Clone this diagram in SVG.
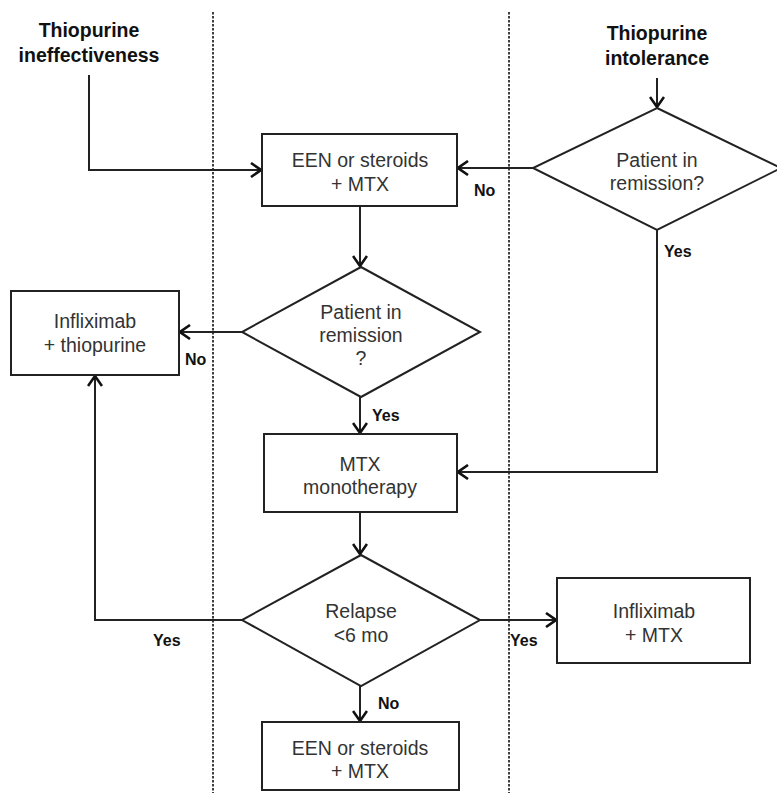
<svg xmlns="http://www.w3.org/2000/svg" width="777" height="793" viewBox="0 0 777 793">
<style>
.bx{fill:#fff;stroke:#222;stroke-width:2}
.t{font-family:"Liberation Sans",Arial,sans-serif;font-size:19.5px;fill:#333;text-anchor:middle}
.h{font-family:"Liberation Sans",Arial,sans-serif;font-size:19.5px;font-weight:bold;fill:#111;text-anchor:middle}
.l{font-family:"Liberation Sans",Arial,sans-serif;font-size:16px;font-weight:bold;fill:#111}
.c{fill:none;stroke:#222;stroke-width:2}
.d{fill:none;stroke:#111;stroke-width:1.6;stroke-dasharray:2.5 1.5}
</style>
<defs>
<marker id="a" viewBox="0 0 12 16" refX="11" refY="8" markerWidth="12" markerHeight="16" markerUnits="userSpaceOnUse" orient="auto">
<path d="M1,1 L11,8 L1,15" fill="none" stroke="#111" stroke-width="2.6"/>
</marker>
</defs>
<rect width="777" height="793" fill="#fff"/>
<g id="dividers">
<line class="d" x1="213" y1="12" x2="213" y2="793"/>
<line class="d" x1="509" y1="12" x2="509" y2="793"/>
</g>
<g id="connectors">
<path class="c" d="M89,75 V170 H261" marker-end="url(#a)"/>
<path class="c" d="M657,78 V107" marker-end="url(#a)"/>
<path class="c" d="M533,168 H458" marker-end="url(#a)"/>
<path class="c" d="M657,230 V472 H458" marker-end="url(#a)"/>
<path class="c" d="M360,206 V266" marker-end="url(#a)"/>
<path class="c" d="M242,332 H180" marker-end="url(#a)"/>
<path class="c" d="M360,397 V433" marker-end="url(#a)"/>
<path class="c" d="M360,512 V554" marker-end="url(#a)"/>
<path class="c" d="M242,620 H95 V376" marker-end="url(#a)"/>
<path class="c" d="M480,620 H556" marker-end="url(#a)"/>
<path class="c" d="M360,686 V721" marker-end="url(#a)"/>
<text class="l" x="474" y="196">No</text>
<text class="l" x="664" y="257">Yes</text>
<text class="l" x="185" y="365">No</text>
<text class="l" x="372" y="421">Yes</text>
<text class="l" x="153" y="646">Yes</text>
<text class="l" x="510" y="646">Yes</text>
<text class="l" x="378" y="709">No</text>
</g>
<g id="start-ineffectiveness">
<text class="h" x="89" y="37">Thiopurine</text>
<text class="h" x="89" y="62">ineffectiveness</text>
</g>
<g id="start-intolerance">
<text class="h" x="657" y="40">Thiopurine</text>
<text class="h" x="657" y="65">intolerance</text>
</g>
<g id="een-top">
<rect class="bx" x="262" y="134" width="195" height="72"/>
<text class="t" x="360" y="167">EEN or steroids</text>
<text class="t" x="360" y="191">+ MTX</text>
</g>
<g id="remission-1">
<polygon class="bx" points="657,108 781,168 657,230 533,168"/>
<text class="t" x="657" y="167">Patient in</text>
<text class="t" x="657" y="190">remission?</text>
</g>
<g id="remission-2">
<polygon class="bx" points="361,267 480,332 361,397 242,332"/>
<text class="t" x="361" y="319">Patient in</text>
<text class="t" x="361" y="342">remission</text>
<text class="t" x="361" y="365">?</text>
</g>
<g id="ifx-thiopurine">
<rect class="bx" x="11" y="291" width="168" height="84"/>
<text class="t" x="95" y="328">Infliximab</text>
<text class="t" x="95" y="352">+ thiopurine</text>
</g>
<g id="mtx-mono">
<rect class="bx" x="264" y="434" width="193" height="78"/>
<text class="t" x="360" y="471">MTX</text>
<text class="t" x="360" y="494">monotherapy</text>
</g>
<g id="relapse">
<polygon class="bx" points="361,555 480,620 361,686 242,620"/>
<text class="t" x="361" y="618">Relapse</text>
<text class="t" x="361" y="642">&lt;6 mo</text>
</g>
<g id="ifx-mtx">
<rect class="bx" x="557" y="578" width="193" height="85"/>
<text class="t" x="654" y="618">Infliximab</text>
<text class="t" x="654" y="642">+ MTX</text>
</g>
<g id="een-bottom">
<rect class="bx" x="262" y="722" width="197" height="68"/>
<text class="t" x="360" y="755">EEN or steroids</text>
<text class="t" x="360" y="778">+ MTX</text>
</g>
</svg>
